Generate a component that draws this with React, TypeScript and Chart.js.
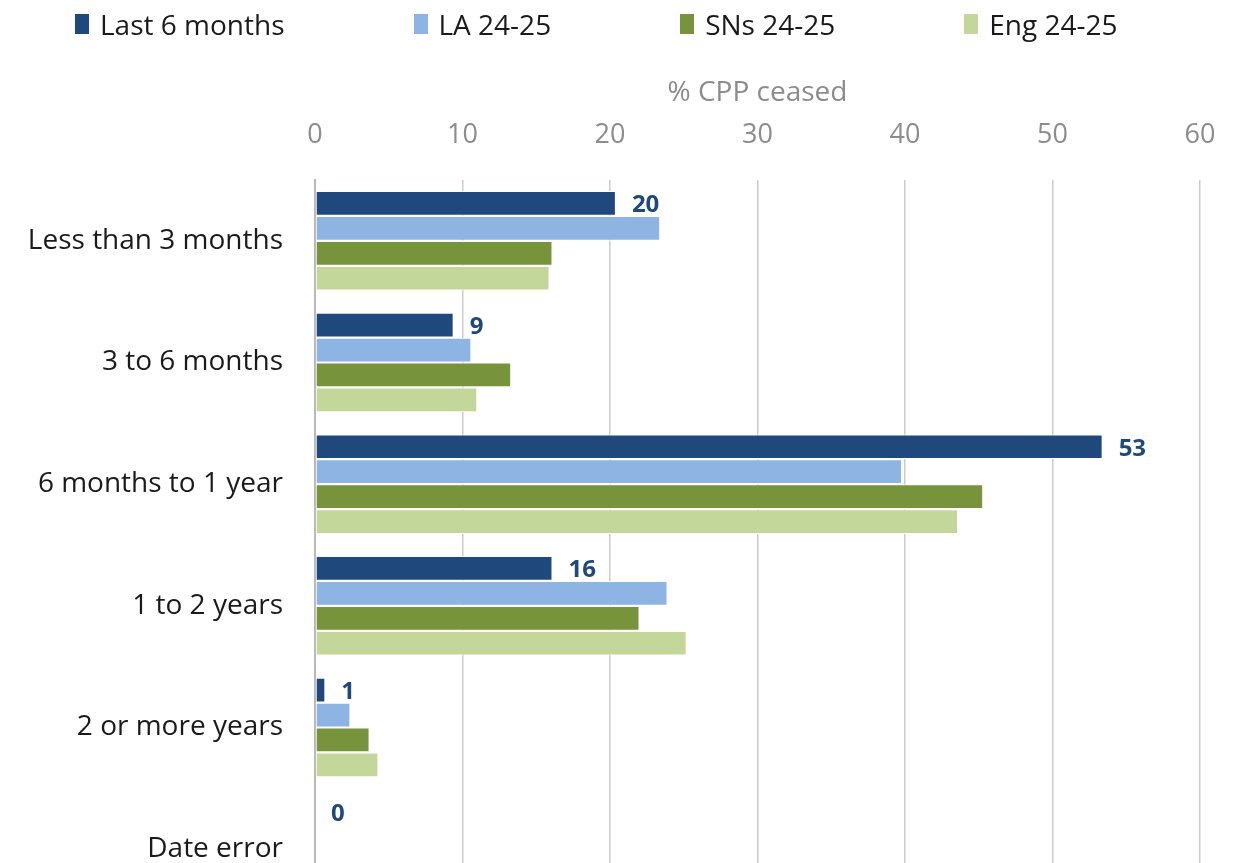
import React, { useEffect, useRef } from "react";
import { Chart, registerables } from "chart.js";

Chart.register(...registerables);

const categories = [
  "Less than 3 months",
  "3 to 6 months",
  "6 months to 1 year",
  "1 to 2 years",
  "2 or more years",
  "Date error",
];
const last6Months = [20.4, 9.4, 53.4, 16.1, 0.7, 0];
const la2425 = [23.4, 10.6, 39.8, 23.9, 2.4, 0];
const sns2425 = [16.1, 13.3, 45.3, 22.0, 3.7, 0];
const eng2425 = [15.9, 11.0, 43.6, 25.2, 4.3, 0];
const seriesNames = ["Last 6 months", "LA 24-25", "SNs 24-25", "Eng 24-25"];
const seriesColors = ["#1F497D", "#8EB4E3", "#77933C", "#C4D79B"];
const xTicks = [0, 10, 20, 30, 40, 50, 60];
const axisTitle = "% CPP ceased";

const FONT = "'Open Sans', 'Noto Sans', sans-serif";
const W = 1240;
const H = 902;

const labelPlugin = {
  id: "barLabels",
  afterDatasetsDraw(chart: any) {
    const ctx = chart.ctx;
    const meta = chart.getDatasetMeta(0);
    const data = chart.data.datasets[0].data as number[];
    ctx.save();
    ctx.font = `bold 24px ${FONT}`;
    ctx.fillStyle = "#1F497D";
    ctx.textAlign = "left";
    ctx.textBaseline = "middle";
    meta.data.forEach((el: any, i: number) => {
      ctx.fillText(String(Math.round(data[i])), el.x + 16, el.y + 2);
    });
    ctx.restore();
  },
};

export default function App() {
  const ref = useRef<HTMLCanvasElement>(null);
  useEffect(() => {
    if (!ref.current) return;
    const values = [last6Months, la2425, sns2425, eng2425];
    const chart = new Chart(ref.current, {
      type: "bar",
      data: {
        labels: categories,
        datasets: values.map((v, i) => ({
          label: seriesNames[i],
          data: v,
          backgroundColor: seriesColors[i],
          borderColor: "#ffffff",
          borderWidth: 1,
          borderSkipped: false,
          categoryPercentage: 0.82,
          barPercentage: 0.99,
        })),
      },
      options: {
        indexAxis: "y",
        animation: false,
        responsive: false,
        maintainAspectRatio: false,
        layout: { padding: { left: 20, right: 48, top: 68, bottom: 0 } },
        plugins: {
          legend: { display: false },
          tooltip: { enabled: false },
        },
        scales: {
          x: {
            position: "top",
            min: 0,
            max: 60,
            afterBuildTicks: (axis: any) => {
              axis.ticks = xTicks.map((v) => ({ value: v }));
            },
            afterFit: (axis: any) => {
              axis.height = 104;
            },
            grid: { color: "#cccccc", lineWidth: 1.5, drawTicks: false },
            border: { display: false },
            ticks: {
              color: "#8c8c8c",
              font: { family: FONT, size: 27 },
              padding: 28,
            },
            title: {
              display: true,
              text: axisTitle,
              color: "#8c8c8c",
              font: { family: FONT, size: 28 },
              padding: { top: 0, bottom: 0 },
            },
          },
          y: {
            afterFit: (axis: any) => {
              axis.width = 287;
              axis.paddingTop = 0;
              axis.paddingBottom = 0;
            },
            grid: { display: false, drawTicks: false },
            border: { display: true, color: "#b8b8b8", width: 2 },
            ticks: {
              color: "#1a1a1a",
              font: { family: FONT, size: 28 },
              padding: 32,
            },
          },
        },
      },
      plugins: [labelPlugin],
    });
    return () => chart.destroy();
  }, []);
  return (
    <div style={{ position: "relative", width: W, height: H }}>
      <canvas ref={ref} width={W} height={H} style={{ width: W, height: H, display: "block" }} />
      <div
        style={{
          position: "absolute",
          top: 0,
          left: 67,
          height: 32,
          display: "flex",
          alignItems: "center",
          gap: 129,
          fontFamily: FONT,
          fontSize: 28,
          color: "#1a1a1a",
          whiteSpace: "nowrap",
        }}
      >
        {seriesNames.map((name, i) => (
          <div key={name} style={{ display: "flex", alignItems: "center" }}>
            <span
              style={{
                display: "inline-block",
                width: 14,
                height: 20,
                background: seriesColors[i],
                marginRight: 11,
              }}
            />
            <span style={{ lineHeight: "32px" }}>{name}</span>
          </div>
        ))}
      </div>
    </div>
  );
}
